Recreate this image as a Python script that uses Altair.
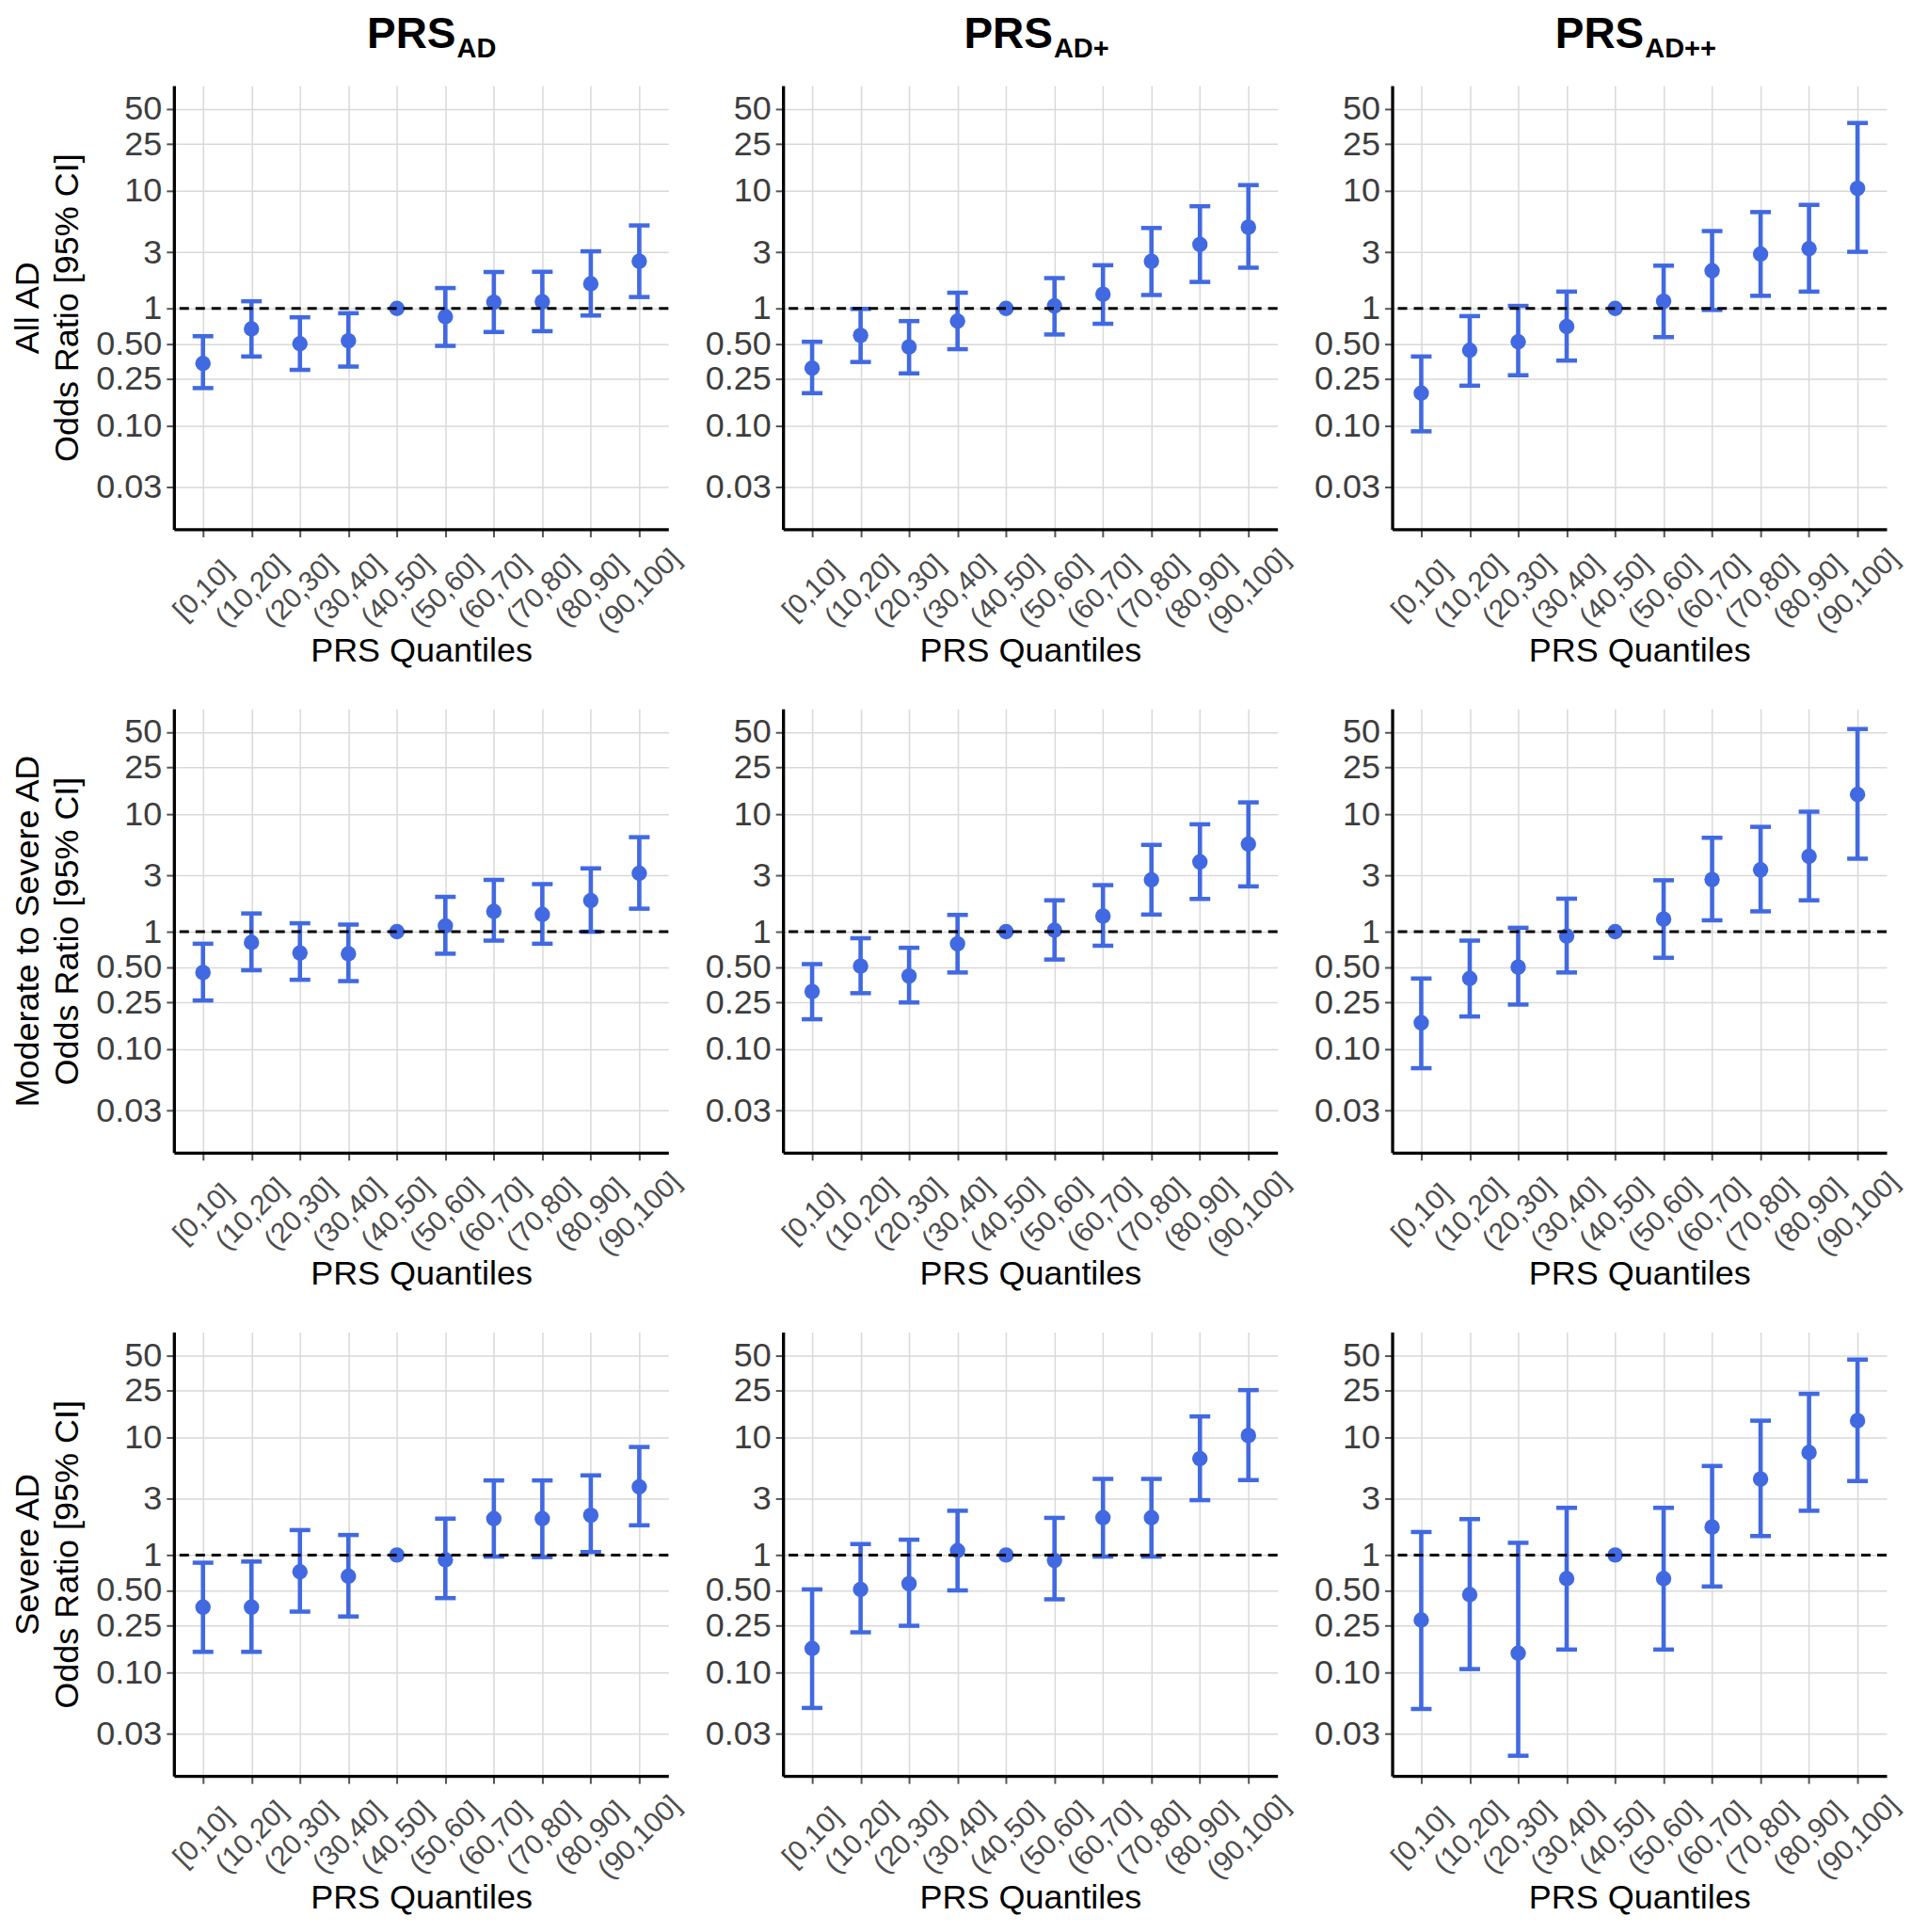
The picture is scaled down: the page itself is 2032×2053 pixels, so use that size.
import math
import altair as alt
import pandas as pd

# ---------------- data ----------------
categories = ["[0,10]", "(10,20]", "(20,30]", "(30,40]", "(40,50]",
              "(50,60]", "(60,70]", "(70,80]", "(80,90]", "(90,100]"]
title_main = ["PRS", "PRS", "PRS"]
title_sub = ["AD", "AD+", "AD++"]
row_labels = ["All AD", "Moderate to Severe AD", "Severe AD"]
y_title_line2 = "Odds Ratio [95% CI]"
x_title = "PRS Quantiles"
y_tick_values = [0.03, 0.10, 0.25, 0.50, 1, 3, 10, 25, 50]
reference_or = [1]

# Row 1: All AD
or_r1_c1 = [0.34, 0.67, 0.50, 0.53, 1, 0.85, 1.13, 1.14, 1.62, 2.52]
lo_r1_c1 = [0.21, 0.39, 0.30, 0.32, None, 0.48, 0.63, 0.64, 0.87, 1.25]
hi_r1_c1 = [0.58, 1.15, 0.84, 0.91, None, 1.49, 2.04, 2.05, 3.06, 5.08]

or_r1_c2 = [0.31, 0.59, 0.47, 0.78, 1, 1.05, 1.32, 2.52, 3.50, 4.91]
lo_r1_c2 = [0.19, 0.35, 0.28, 0.45, None, 0.60, 0.74, 1.30, 1.68, 2.22]
hi_r1_c2 = [0.52, 0.99, 0.78, 1.36, None, 1.81, 2.33, 4.83, 7.4, 11.2]

or_r1_c3 = [0.19, 0.44, 0.52, 0.70, 1, 1.15, 2.09, 2.90, 3.22, 10.5]
lo_r1_c3 = [0.090, 0.22, 0.27, 0.36, None, 0.57, 0.97, 1.28, 1.39, 3.03]
hi_r1_c3 = [0.39, 0.86, 1.05, 1.39, None, 2.31, 4.55, 6.6, 7.6, 37.8]

# Row 2: Moderate to Severe AD
or_r2_c1 = [0.45, 0.81, 0.66, 0.65, 1, 1.12, 1.49, 1.40, 1.84, 3.14]
lo_r2_c1 = [0.26, 0.47, 0.39, 0.38, None, 0.65, 0.84, 0.79, 1.0, 1.57]
hi_r2_c1 = [0.79, 1.43, 1.18, 1.15, None, 1.98, 2.76, 2.54, 3.46, 6.37]

or_r2_c2 = [0.31, 0.51, 0.42, 0.79, 1, 1.03, 1.36, 2.76, 3.93, 5.56]
lo_r2_c2 = [0.18, 0.30, 0.25, 0.45, None, 0.58, 0.76, 1.40, 1.90, 2.43]
hi_r2_c2 = [0.53, 0.88, 0.73, 1.39, None, 1.85, 2.49, 5.48, 8.2, 12.6]

or_r2_c3 = [0.168, 0.40, 0.50, 0.92, 1, 1.28, 2.78, 3.36, 4.37, 14.7]
lo_r2_c3 = [0.069, 0.19, 0.24, 0.45, None, 0.60, 1.25, 1.49, 1.85, 4.18]
hi_r2_c3 = [0.40, 0.84, 1.08, 1.91, None, 2.74, 6.3, 7.8, 10.5, 53]

# Row 3: Severe AD
or_r3_c1 = [0.36, 0.36, 0.72, 0.66, 1, 0.91, 2.04, 2.04, 2.18, 3.80]
lo_r3_c1 = [0.15, 0.15, 0.33, 0.30, None, 0.43, 0.97, 0.96, 1.06, 1.79]
hi_r3_c1 = [0.86, 0.88, 1.63, 1.48, None, 2.04, 4.31, 4.31, 4.76, 8.3]

or_r3_c2 = [0.16, 0.51, 0.57, 1.09, 1, 0.90, 2.08, 2.08, 6.6, 10.4]
lo_r3_c2 = [0.050, 0.22, 0.25, 0.50, None, 0.42, 0.97, 0.97, 2.93, 4.34]
hi_r3_c2 = [0.51, 1.24, 1.35, 2.38, None, 2.07, 4.44, 4.44, 15.1, 25.3]

or_r3_c3 = [0.28, 0.46, 0.146, 0.63, 1, 0.63, 1.73, 4.43, 7.45, 13.9]
lo_r3_c3 = [0.049, 0.107, 0.0196, 0.157, None, 0.157, 0.54, 1.45, 2.38, 4.26]
hi_r3_c3 = [1.57, 2.02, 1.27, 2.52, None, 2.52, 5.72, 13.9, 23.5, 46]

panels = [
    [(or_r1_c1, lo_r1_c1, hi_r1_c1), (or_r1_c2, lo_r1_c2, hi_r1_c2), (or_r1_c3, lo_r1_c3, hi_r1_c3)],
    [(or_r2_c1, lo_r2_c1, hi_r2_c1), (or_r2_c2, lo_r2_c2, hi_r2_c2), (or_r2_c3, lo_r2_c3, hi_r2_c3)],
    [(or_r3_c1, lo_r3_c1, hi_r3_c1), (or_r3_c2, lo_r3_c2, hi_r3_c2), (or_r3_c3, lo_r3_c3, hi_r3_c3)],
]

# ---------------- layout / style ----------------
W, H = 526, 472
COL_GAP, ROW_GAP = 122, 191
BLUE = "#4169E1"
FONT = "Liberation Sans"
TITLE_ANCHOR = [300, 287, 268]   # x of the end of "PRS" inside each column

# shared log y-domain with 5% expansion (like ggplot)
all_lo = [v for p in sum(panels, []) for v in p[1] if v is not None]
all_hi = [v for p in sum(panels, []) for v in p[2] if v is not None]
l0, l1 = math.log10(min(all_lo)), math.log10(max(all_hi))
ex = 0.05 * (l1 - l0)
y_domain = [10 ** (l0 - ex), 10 ** (l1 + ex)]

label_expr = "datum.value < 1 ? format(datum.value, '.2f') : format(datum.value, 'd')"


def make_panel(r, c):
    o, lo, hi = panels[r][c]
    df = pd.DataFrame({"q": categories, "or": o, "lo": lo, "hi": hi})

    xenc = alt.X(
        "q:N", sort=categories,
        scale=alt.Scale(type="point", padding=0.6),
        axis=alt.Axis(title=x_title, grid=True, labelAngle=-45, labelAlign="center",
                      labelBaseline="middle", labelPadding=57, labelFontSize=30,
                      labelColor="#4d4d4d", labelOverlap=False, titleY=140,
                      titleBaseline="alphabetic"),
    )
    ykw = dict(values=y_tick_values, labelExpr=label_expr, grid=True,
               labelOverlap=False, labelPadding=5)
    if c == 0:
        ykw.update(title=[row_labels[r], y_title_line2], titleX=-144, titleY=H / 2,
                   titleAngle=270, titleAlign="center", titleBaseline="alphabetic",
                   titleLineHeight=42)
    else:
        ykw.update(title=None)
    yaxis = alt.Axis(**ykw)
    yscale = alt.Scale(type="log", domain=y_domain, nice=False)

    def Y(field):
        return alt.Y(f"{field}:Q", scale=yscale, axis=yaxis)

    base = alt.Chart(df)
    valid = base.transform_filter("isValid(datum.lo)")
    whisk = valid.mark_rule(color=BLUE, strokeWidth=4.6).encode(x=xenc, y=Y("lo"), y2="hi:Q")
    cap_lo = valid.mark_tick(color=BLUE, thickness=4.5, size=22, opacity=1).encode(x=xenc, y=Y("lo"))
    cap_hi = valid.mark_tick(color=BLUE, thickness=4.5, size=22, opacity=1).encode(x=xenc, y=Y("hi"))
    pts = base.mark_circle(color=BLUE, size=270, opacity=1).encode(x=xenc, y=Y("or"))
    ref = alt.Chart(pd.DataFrame({"ref": reference_or})).mark_rule(
        color="black", strokeWidth=3, strokeDash=[10, 7]).encode(y=Y("ref"))
    layers = [whisk, cap_lo, cap_hi, pts, ref]

    if r == 0:
        t_main = alt.Chart(pd.DataFrame({"t": [title_main[c]]})).mark_text(
            font=FONT, fontSize=46, fontWeight="bold", align="right",
            baseline="alphabetic", color="black").encode(
            text="t:N", x=alt.value(TITLE_ANCHOR[c]), y=alt.value(-40))
        t_sub = alt.Chart(pd.DataFrame({"t": [title_sub[c]]})).mark_text(
            font=FONT, fontSize=29, fontWeight="bold", align="left",
            baseline="alphabetic", color="black").encode(
            text="t:N", x=alt.value(TITLE_ANCHOR[c] + 1), y=alt.value(-30))
        layers += [t_main, t_sub]

    return alt.layer(*layers).properties(width=W, height=H)


charts = [make_panel(r, c) for r in range(3) for c in range(3)]

chart = alt.concat(
    *charts, columns=3,
    spacing={"row": ROW_GAP, "column": COL_GAP},
    bounds="flush",
).properties(
    padding={"left": 4, "top": 5, "right": 0, "bottom": 0}
).configure_view(
    stroke=None
).configure_axis(
    domainColor="black", domainWidth=3.3,
    tickColor="#555555", tickSize=8, tickWidth=2,
    gridColor="#d9d9d9", gridWidth=1.5,
    labelFont=FONT, labelFontSize=36, labelColor="#3d3d3d",
    titleFont=FONT, titleFontSize=36, titleColor="black", titleFontWeight="normal",
)

chart.save("out.html", embed_options={"renderer": "svg", "actions": False})
